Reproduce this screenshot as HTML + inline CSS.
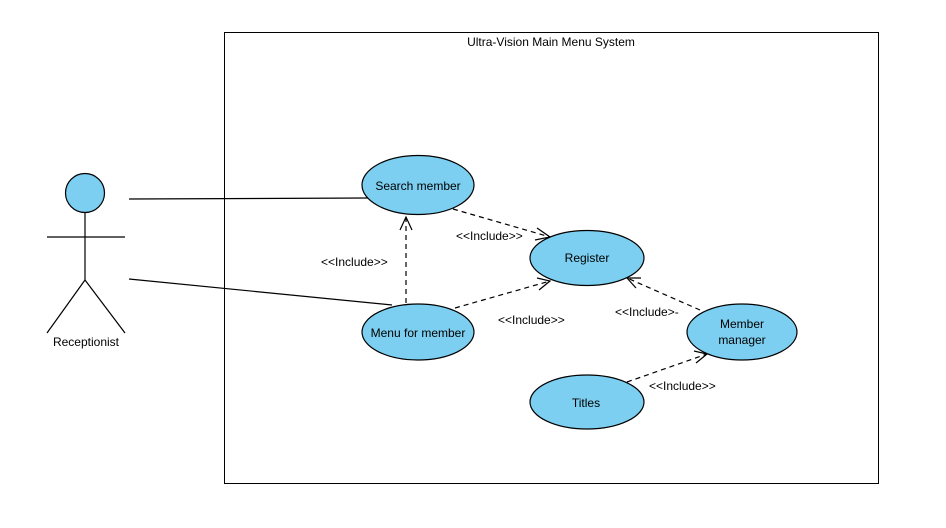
<!DOCTYPE html>
<html><head><meta charset="utf-8"><style>
html,body{margin:0;padding:0;background:#fff;}
svg{display:block;font-family:"Liberation Sans",Arial,sans-serif;}
</style></head><body>
<svg width="946" height="528" viewBox="0 0 946 528" xmlns="http://www.w3.org/2000/svg">
<rect x="0" y="0" width="946" height="528" fill="#fff"/>
<rect x="224.5" y="32.5" width="654" height="451" fill="none" stroke="#000" stroke-width="1"/>
<text x="551" y="46" font-size="12" text-anchor="middle" fill="#000">Ultra-Vision Main Menu System</text>

<!-- actor -->
<circle cx="85" cy="193" r="19.5" fill="#7ccff0" stroke="#000" stroke-width="1.2"/>
<line x1="85" y1="213" x2="85" y2="280" stroke="#000" stroke-width="1.2"/>
<line x1="47" y1="237" x2="125" y2="237" stroke="#000" stroke-width="1.2"/>
<line x1="85" y1="280" x2="47" y2="333" stroke="#000" stroke-width="1.2"/>
<line x1="85" y1="280" x2="125" y2="333" stroke="#000" stroke-width="1.2"/>
<text x="86" y="346" font-size="12" text-anchor="middle" fill="#000">Receptionist</text>

<!-- associations -->
<line x1="129" y1="199" x2="368" y2="198" stroke="#000" stroke-width="1.2"/>
<line x1="129" y1="279" x2="392" y2="305" stroke="#000" stroke-width="1.2"/>

<g stroke="#000" stroke-width="1.2" fill="none">
<!-- menu -> search -->
<line x1="406" y1="303" x2="406" y2="217" stroke-dasharray="5,4"/>
<polyline points="400,230 406,217 412,230"/>
<!-- search -> register -->
<line x1="453" y1="209" x2="550" y2="237" stroke-dasharray="5,4"/>
<polyline points="537,228 550,237 535,240"/>
<!-- menu -> register -->
<line x1="455" y1="308" x2="550" y2="281" stroke-dasharray="5,4"/>
<polyline points="537,278 550,281 539,290"/>
<!-- manager -> register -->
<line x1="700" y1="310" x2="627" y2="278" stroke-dasharray="5,4"/>
<polyline points="636,288 627,278 641,278"/>
<!-- titles -> manager -->
<line x1="627" y1="382" x2="707" y2="354" stroke-dasharray="5,4"/>
<polyline points="694,351 707,354 696,363"/>
</g>

<g font-size="12" fill="#000">
<text x="321" y="266">&lt;&lt;Include&gt;&gt;</text>
<text x="456" y="240">&lt;&lt;Include&gt;&gt;</text>
<text x="498" y="324">&lt;&lt;Include&gt;&gt;</text>
<text x="615" y="316">&lt;&lt;Include&gt;-</text>
<text x="649" y="390">&lt;&lt;Include&gt;&gt;</text>
</g>

<g fill="#7ccff0" stroke="#000" stroke-width="1.2">
<ellipse cx="418" cy="185" rx="56" ry="29.5"/>
<ellipse cx="587" cy="258" rx="57" ry="27.5"/>
<ellipse cx="418" cy="332" rx="56" ry="28"/>
<ellipse cx="742" cy="332" rx="55" ry="28"/>
<ellipse cx="587" cy="402" rx="57" ry="27"/>
</g>
<g font-size="12" fill="#000" text-anchor="middle">
<text x="418" y="190">Search member</text>
<text x="587" y="262">Register</text>
<text x="418" y="337">Menu for member</text>
<text x="742" y="328">Member</text>
<text x="742" y="344">manager</text>
<text x="586" y="407">Titles</text>
</g>
</svg>
</body></html>
